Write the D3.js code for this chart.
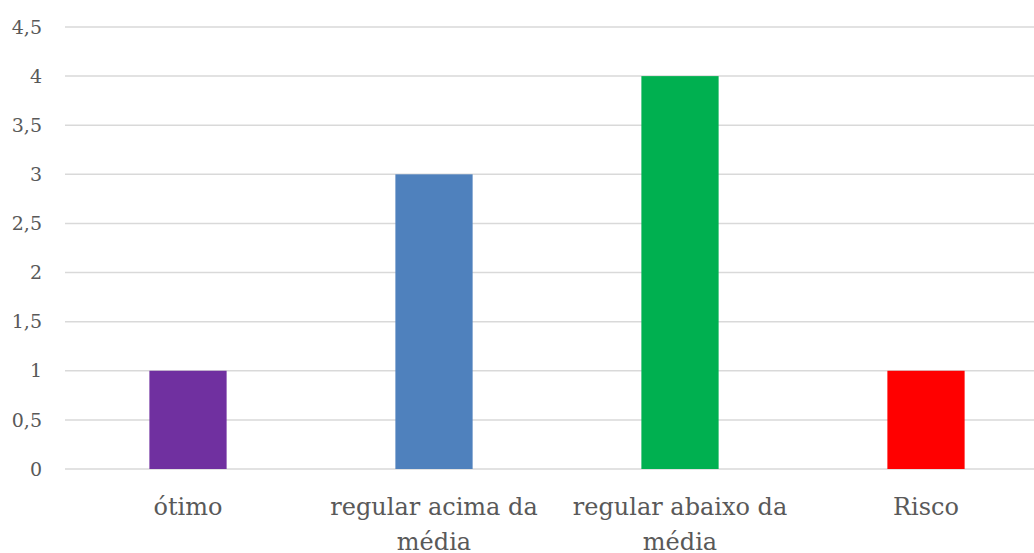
<!DOCTYPE html>
<html>
<head>
<meta charset="utf-8">
<script src="https://cdn.jsdelivr.net/npm/d3@7"></script>
<style>
  body { margin: 0; background: #fff; }
  svg { display: block; font-family: "DejaVu Serif", serif; }
</style>
</head>
<body>
<svg width="1034" height="553"></svg>
<script>
const categories = ["ótimo", "regular acima da média", "regular abaixo da média", "Risco"];
const values = [1, 3, 4, 1];
const colors = ["#7030a0", "#4f81bd", "#00b050", "#ff0000"];
const yTicks = [0, 0.5, 1, 1.5, 2, 2.5, 3, 3.5, 4, 4.5];

const svg = d3.select("svg");
const width = +svg.attr("width");
const height = +svg.attr("height");

const plotLeft = 65, plotRight = 1049, plotTop = 27, plotBottom = 469;

const x = d3.scaleBand()
	.domain(categories)
	.range([plotLeft, plotRight])
	.paddingInner(0.686)
	.paddingOuter(0.343);

const y = d3.scaleLinear()
	.domain([0, 4.5])
	.range([plotBottom, plotTop]);

const fmt = d => String(d).replace(".", ",");

// gridlines
svg.append("g")
	.selectAll("line")
	.data(yTicks)
	.join("line")
		.attr("x1", plotLeft)
		.attr("x2", plotRight)
		.attr("y1", d => y(d))
		.attr("y2", d => y(d))
		.attr("stroke", "#d9d9d9")
		.attr("stroke-width", 1.5);

// y labels
svg.append("g")
	.selectAll("text")
	.data(yTicks)
	.join("text")
		.attr("x", 42)
		.attr("y", d => y(d))
		.attr("dy", "0.35em")
		.attr("text-anchor", "end")
		.attr("fill", "#595959")
		.attr("font-size", 19)
		.text(fmt);

// bars
svg.append("g")
	.selectAll("rect")
	.data(categories)
	.join("rect")
		.attr("x", d => x(d))
		.attr("width", x.bandwidth())
		.attr("y", (d, i) => y(values[i]))
		.attr("height", (d, i) => y(0) - y(values[i]))
		.attr("fill", (d, i) => colors[i]);

// x labels, wrapped like the original
const wrap = s => {
	const words = s.split(" ");
	if (words.length <= 2) return [s];
	return [words.slice(0, -1).join(" "), words[words.length - 1]];
};

const labels = svg.append("g")
	.selectAll("text")
	.data(categories)
	.join("text")
		.attr("x", d => x(d) + x.bandwidth() / 2)
		.attr("y", 515)
		.attr("text-anchor", "middle")
		.attr("fill", "#595959")
		.attr("font-size", 24);

labels.selectAll("tspan")
	.data(d => wrap(d))
	.join("tspan")
		.attr("x", function () { return this.parentNode.getAttribute("x"); })
		.attr("dy", (d, i) => i === 0 ? 0 : 35)
		.text(d => d);
</script>
</body>
</html>
